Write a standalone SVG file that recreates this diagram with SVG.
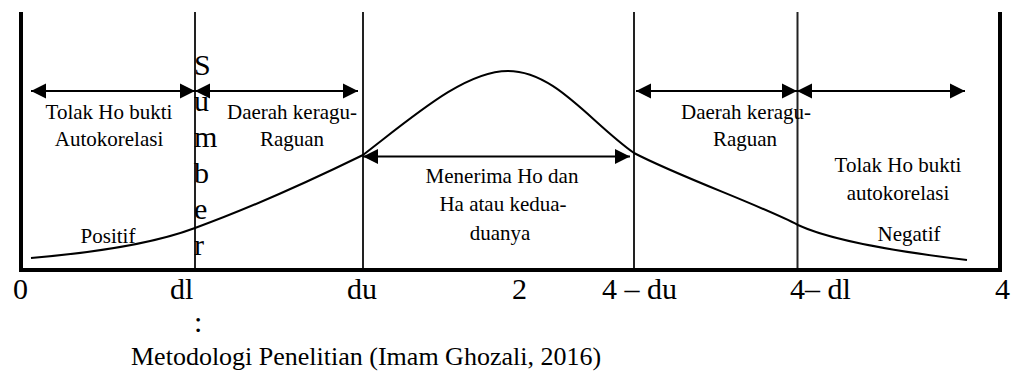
<svg xmlns="http://www.w3.org/2000/svg" width="1016" height="372" viewBox="0 0 1016 372">
<style>
.frame{stroke:#000;stroke-width:4;fill:none}
.vline{stroke:#222;stroke-width:2;fill:none}
.arr{stroke:#000;stroke-width:2;fill:none;marker-start:url(#head);marker-end:url(#head)}
.curve{stroke:#000;stroke-width:2;fill:none}
text{fill:#000}
.lbl{font-size:21px;text-anchor:middle}
.ax{font-size:30px}
.src{font-size:30px}
.cap{font-size:26px}
</style>
<defs>
<marker id="head" markerUnits="userSpaceOnUse" markerWidth="16" markerHeight="16" viewBox="0 0 16 16" refX="15" refY="8" orient="auto-start-reverse">
<path d="M0,0.5 L15,8 L0,15.5 Z" fill="#000"/>
</marker>
</defs>
<g id="frame">
<path class="frame" d="M21,12 V270 H1000 V12"/>
</g>
<g id="boundaries">
<line class="vline" x1="195" y1="12" x2="195" y2="268"/>
<line class="vline" x1="363" y1="12" x2="363" y2="268"/>
<line class="vline" x1="634" y1="12" x2="634" y2="268"/>
<line class="vline" x1="797.5" y1="12" x2="797.5" y2="268"/>
</g>
<g id="curve">
<path class="curve" d="M31,258 C90,253 150,245 195,228 C250,208 320,176 363,155 C415,115 465,71 508,71 C555,71 590,122 634,153 C680,177 760,205 798,225 C830,240 900,252 967,260"/>
</g>
<g id="connectors">
<line class="arr" x1="31" y1="91" x2="195" y2="91"/>
<line class="arr" x1="195" y1="91" x2="358" y2="91"/>
<line class="arr" x1="636" y1="91" x2="797" y2="91"/>
<line class="arr" x1="797" y1="91" x2="965" y2="91"/>
<line class="arr" x1="363" y1="156.5" x2="630" y2="156.5"/>
</g>
<g font-family="'Liberation Serif', 'Times New Roman', 'DejaVu Serif', serif">
<g id="zone-tolak-positif">
<text class="lbl" x="109" y="119">Tolak Ho bukti</text>
<text class="lbl" x="109" y="146">Autokorelasi</text>
<text class="lbl" x="108" y="243">Positif</text>
</g>
<g id="zone-ragu-left">
<text class="lbl" x="292" y="119">Daerah keragu-</text>
<text class="lbl" x="292" y="146">Raguan</text>
</g>
<g id="zone-terima">
<text class="lbl" x="502" y="183">Menerima Ho dan</text>
<text class="lbl" x="503" y="211">Ha atau kedua-</text>
<text class="lbl" x="500" y="240">duanya</text>
</g>
<g id="zone-ragu-right">
<text class="lbl" x="746" y="119">Daerah keragu-</text>
<text class="lbl" x="745" y="146">Raguan</text>
</g>
<g id="zone-tolak-negatif">
<text class="lbl" x="898" y="172">Tolak Ho bukti</text>
<text class="lbl" x="898" y="200">autokorelasi</text>
<text class="lbl" x="909" y="241">Negatif</text>
</g>
<g id="axis-labels">
<text class="ax" x="13" y="299">0</text>
<text class="ax" x="170" y="299">dl</text>
<text class="ax" x="347" y="299">du</text>
<text class="ax" x="512" y="299">2</text>
<text class="ax" x="602" y="299">4 – du</text>
<text class="ax" x="790" y="299">4– dl</text>
<text class="ax" x="995" y="299">4</text>
</g>
<g id="source">
<text class="src" x="194" y="75">S</text>
<text class="src" x="194" y="111">u</text>
<text class="src" x="194" y="147">m</text>
<text class="src" x="194" y="183">b</text>
<text class="src" x="194" y="219">e</text>
<text class="src" x="194" y="255">r</text>
<text class="src" x="194" y="332">:</text>
<text class="cap" x="131" y="365">Metodologi Penelitian (Imam Ghozali, 2016)</text>
</g>
</g>
</svg>
